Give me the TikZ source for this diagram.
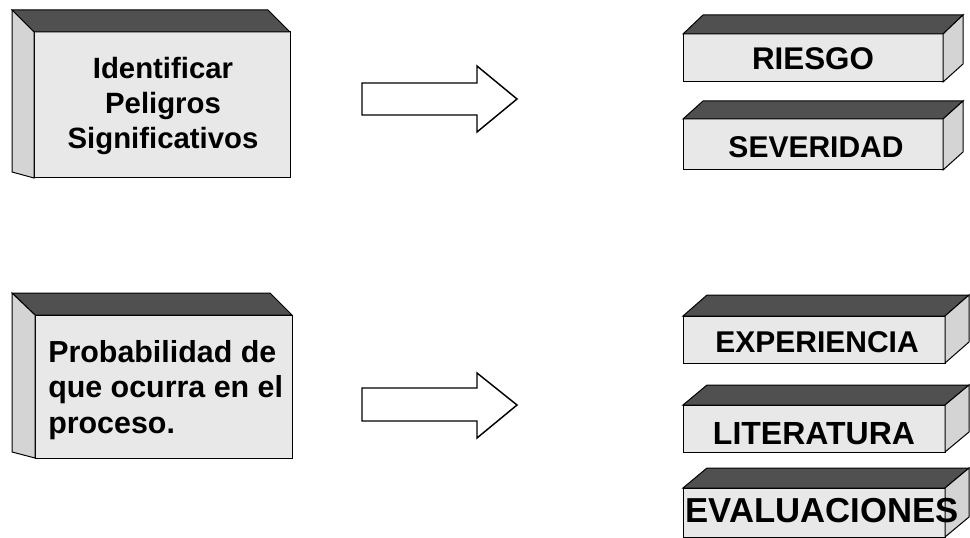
\documentclass[tikz,border=0pt]{standalone}
\usepackage{fontspec}
\setmainfont{Liberation Sans}
\usepackage{tikz}

\tikzset{
  topface/.style={draw=black, line width=0.75, fill={rgb, 255:red, 80; green, 80; blue, 80 }},
  frontface/.style={draw=black, line width=0.75, fill={rgb, 255:red, 232; green, 232; blue, 232 }},
  sideface/.style={draw=black, line width=0.75, fill={rgb, 255:red, 212; green, 212; blue, 212 }},
  blockarrow/.style={draw=black, line width=1.1, fill=white, line join=miter},
  boxtext/.style={inner sep=0.75pt, font=\bfseries\fontsize{22}{26}\selectfont}
}

\begin{document}
\begin{tikzpicture}[x=0.75pt,y=0.75pt,yscale=-1,xscale=1]
\useasboundingbox (0,0) rectangle (970,538);

%Shape: Cube (Identificar)
\draw [frontface]  (34,32) -- (290,32) -- (290,178) -- (34,178) -- cycle ;
\draw [topface]  (12,10) -- (268,10) -- (290,32) -- (34,32) -- cycle ;
\draw [sideface]  (12,10) -- (34,32) -- (34,178) -- (12,172) -- cycle ;
%Shape: Cube (Probabilidad)
\draw [frontface]  (35,315) -- (292,315) -- (292,458) -- (35,458) -- cycle ;
\draw [topface]  (12,293) -- (270,293) -- (292,315) -- (35,315) -- cycle ;
\draw [sideface]  (12,293) -- (35,315) -- (35,458) -- (12,452) -- cycle ;

%Shape: Right Arrow
\draw [blockarrow]  (362,83) -- (477,83) -- (477,66) -- (517,99) -- (477,132) -- (477,115) -- (362,115) -- cycle ;
%Shape: Right Arrow
\draw [blockarrow]  (362,388) -- (477,388) -- (477,373) -- (517,405) -- (477,438) -- (477,421) -- (362,421) -- cycle ;

%Shape: Cube (Riesgo)
\draw [frontface]  (683,34) -- (943,34) -- (943,82) -- (683,82) -- cycle ;
\draw [topface]  (683,34) -- (703,15) -- (963,15) -- (943,34) -- cycle ;
\draw [sideface]  (943,34) -- (963,15) -- (963,64) -- (943,82) -- cycle ;
%Shape: Cube (Severidad)
\draw [frontface]  (683,119) -- (943,119) -- (943,170) -- (683,170) -- cycle ;
\draw [topface]  (683,119) -- (703,101) -- (963,101) -- (943,119) -- cycle ;
\draw [sideface]  (943,119) -- (963,101) -- (963,152) -- (943,170) -- cycle ;
%Shape: Cube (Experiencia)
\draw [frontface]  (683,316) -- (945,316) -- (945,363) -- (683,363) -- cycle ;
\draw [topface]  (683,316) -- (707,295) -- (969,295) -- (945,316) -- cycle ;
\draw [sideface]  (945,316) -- (969,295) -- (969,342) -- (945,363) -- cycle ;
%Shape: Cube (Literatura)
\draw [frontface]  (683,405) -- (945,405) -- (945,452) -- (683,452) -- cycle ;
\draw [topface]  (683,405) -- (707,385) -- (969,385) -- (945,405) -- cycle ;
\draw [sideface]  (945,405) -- (969,385) -- (969,432) -- (945,452) -- cycle ;
%Shape: Cube (Evaluaciones)
\draw [frontface]  (683,488) -- (945,488) -- (945,537) -- (683,537) -- cycle ;
\draw [topface]  (683,488) -- (707,468) -- (969,468) -- (945,488) -- cycle ;
\draw [sideface]  (945,488) -- (969,468) -- (969,517) -- (945,537) -- cycle ;

% Text Node
\node (peligros) at (163,106) [boxtext, align=center] {Identificar\\Peligros\\Significativos};
% Text Node
\node (probabilidad) at (47,390) [boxtext, anchor=west, align=left, font=\bfseries\fontsize{22.8}{26.5}\selectfont] {Probabilidad de\\que ocurra en el\\proceso.};
% Text Node
\node (riesgo) at (813,59) [boxtext, font=\bfseries\fontsize{23.5}{26}\selectfont] {RIESGO};
% Text Node
\node (severidad) at (816,147) [boxtext, font=\bfseries\fontsize{22.5}{26}\selectfont] {SEVERIDAD};
% Text Node
\node (experiencia) at (817,342) [boxtext, font=\bfseries\fontsize{22.5}{26}\selectfont] {EXPERIENCIA};
% Text Node
\node (literatura) at (814,434) [boxtext, font=\bfseries\fontsize{24}{26}\selectfont] {LITERATURA};
% Text Node
\node (evaluaciones) at (822,511) [boxtext, font=\bfseries\fontsize{26}{26}\selectfont] {EVALUACIONES};

\end{tikzpicture}
\end{document}
